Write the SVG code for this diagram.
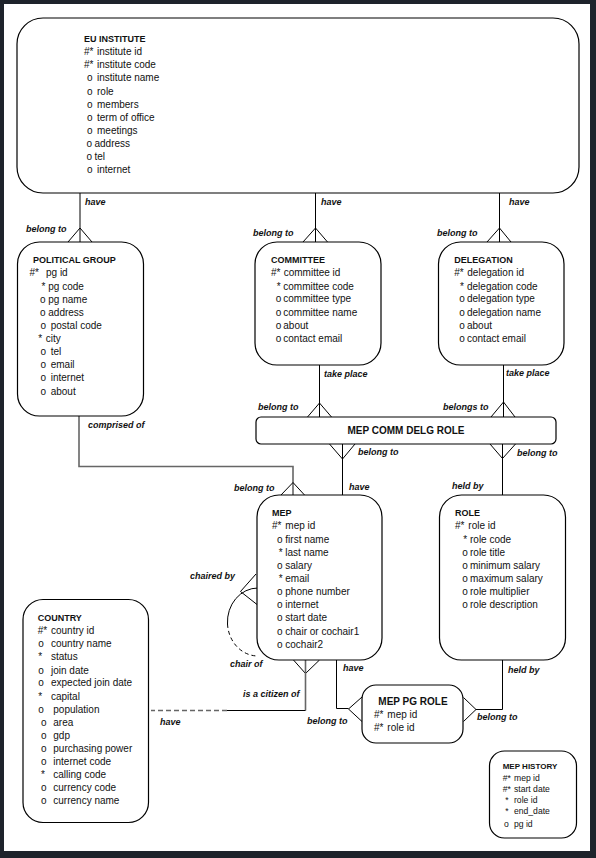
<svg xmlns="http://www.w3.org/2000/svg" width="596" height="858" viewBox="0 0 596 858">
<style>
.box{fill:#fff;stroke:#000;stroke-width:1.2}
text{font-family:"Liberation Sans",Arial,sans-serif;fill:#111}
.a{font-size:10px}
.h{font-size:9px;font-weight:bold}
.h10{font-size:10px;font-weight:bold}
.s{font-size:8.6px}
.h8{font-size:8px;font-weight:bold}
.lbl{font-size:9px;font-weight:bold;font-style:italic}
.ln{stroke:#000;stroke-width:1;fill:none}
.gr{stroke:#666;stroke-width:1.6;fill:none}
.ds{stroke:#666;stroke-width:1.4;fill:none;stroke-dasharray:5 3}
.dk{stroke:#000;stroke-width:1;fill:none;stroke-dasharray:4 3}
</style>
<rect x="0" y="0" width="596" height="858" fill="#1e232b"/>
<rect x="4" y="4" width="586" height="847" fill="#fff"/>

<g id="connectors">
  <!-- EU INSTITUTE to POLITICAL GROUP -->
  <line class="ln" x1="80" y1="193" x2="80" y2="242"/>
  <polyline class="ln" points="68,242 80,228 92,242"/>
  <!-- EU INSTITUTE to COMMITTEE -->
  <line class="ln" x1="315.5" y1="193" x2="315.5" y2="242"/>
  <polyline class="ln" points="303,242 315.5,228 327.5,242"/>
  <!-- EU INSTITUTE to DELEGATION -->
  <line class="ln" x1="499.5" y1="193" x2="499.5" y2="242"/>
  <polyline class="ln" points="487,242 499.5,228 511,242"/>
  <!-- COMMITTEE to MEP COMM DELG ROLE -->
  <line class="ln" x1="319.5" y1="365" x2="319.5" y2="417"/>
  <polyline class="ln" points="307.5,417 319.5,403 331.5,417"/>
  <!-- DELEGATION to MEP COMM DELG ROLE -->
  <line class="ln" x1="503.5" y1="365" x2="503.5" y2="417"/>
  <polyline class="ln" points="491,417 503.5,402 515,417"/>
  <!-- MEP COMM DELG ROLE to MEP -->
  <line class="ln" x1="342.5" y1="444" x2="342.5" y2="495"/>
  <polyline class="ln" points="329.5,444 342.5,459 355,444"/>
  <!-- MEP COMM DELG ROLE to ROLE -->
  <line class="ln" x1="502.5" y1="444" x2="502.5" y2="495"/>
  <polyline class="ln" points="490,444 502.5,458.5 515.5,444"/>
  <!-- POLITICAL GROUP to MEP -->
  <polyline class="gr" points="79,416 79,466.5 293,466.5 293,495"/>
  <polyline class="ln" points="281,495 293,482.5 304.5,495"/>
  <!-- MEP self relationship -->
  <polyline class="ln" points="256,574 240.5,591.5 257,604.5"/>
  <path class="ln" d="M258,588 A30.5,34 0 0 0 227.5,624"/>
  <path class="dk" d="M227.5,624 A30.5,34 0 0 0 258,656"/>
  <!-- MEP to COUNTRY -->
  <polyline class="ln" points="293.5,660 305.5,673.5 319.5,660"/>
  <line class="gr" x1="305.5" y1="660" x2="305.5" y2="710.5"/>
  <line class="ln" x1="305.5" y1="710.5" x2="227" y2="710.5"/>
  <line class="ds" x1="227" y1="710.5" x2="151" y2="710.5"/>
  <!-- MEP to MEP PG ROLE -->
  <polyline class="ln" points="336.5,660 336.5,708.5 348.5,708.5"/>
  <polyline class="ln" points="362,697 348.5,709 362,721.5"/>
  <!-- ROLE to MEP PG ROLE -->
  <polyline class="ln" points="502.5,660 502.5,709.5 476,709.5"/>
  <polyline class="ln" points="463.5,697.5 476,709.5 463.5,721.5"/>

  <g id="labels">
    <text class="lbl" x="85" y="205">have</text>
    <text class="lbl" x="26" y="232">belong to</text>
    <text class="lbl" x="321" y="205">have</text>
    <text class="lbl" x="253" y="235.5">belong to</text>
    <text class="lbl" x="509" y="205">have</text>
    <text class="lbl" x="437" y="235.5">belong to</text>
    <text class="lbl" x="324" y="377">take place</text>
    <text class="lbl" x="258" y="410">belong to</text>
    <text class="lbl" x="506" y="376">take place</text>
    <text class="lbl" x="443" y="410">belongs to</text>
    <text class="lbl" x="358" y="455">belong to</text>
    <text class="lbl" x="349" y="490">have</text>
    <text class="lbl" x="517" y="456">belong to</text>
    <text class="lbl" x="452" y="489">held by</text>
    <text class="lbl" x="88" y="428">comprised of</text>
    <text class="lbl" x="234" y="491">belong to</text>
    <text class="lbl" x="190" y="579">chaired by</text>
    <text class="lbl" x="230" y="666.5">chair of</text>
    <text class="lbl" x="343" y="671">have</text>
    <text class="lbl" x="243" y="696.5">is a citizen of</text>
    <text class="lbl" x="160" y="725">have</text>
    <text class="lbl" x="307" y="724">belong to</text>
    <text class="lbl" x="477" y="720">belong to</text>
    <text class="lbl" x="508" y="672.5">held by</text>
  </g>
</g>

<g id="eu-institute">
  <rect class="box" x="17" y="18" width="562" height="175" rx="26"/>
  <text class="h" x="84" y="42">EU INSTITUTE</text>
  <text class="a" x="84" y="55">#*<tspan x="97">institute id</tspan></text>
  <text class="a" x="84" y="68">#*<tspan x="97">institute code</tspan></text>
  <text class="a" x="87" y="81">o<tspan x="97">institute name</tspan></text>
  <text class="a" x="87" y="94.5">o<tspan x="97">role</tspan></text>
  <text class="a" x="87" y="108">o<tspan x="97">members</tspan></text>
  <text class="a" x="87" y="121">o<tspan x="97">term of office</tspan></text>
  <text class="a" x="87" y="134">o<tspan x="97">meetings</tspan></text>
  <text class="a" x="86.5" y="147">o<tspan x="94.5">address</tspan></text>
  <text class="a" x="86.5" y="160">o<tspan x="94.5">tel</tspan></text>
  <text class="a" x="87" y="173">o<tspan x="97">internet</tspan></text>
</g>

<g id="political-group">
  <rect class="box" x="17.5" y="242" width="126" height="174" rx="22"/>
  <text class="h" x="33" y="263">POLITICAL GROUP</text>
  <text class="a" x="29.5" y="276">#*<tspan x="46">pg id</tspan></text>
  <text class="a" x="41.5" y="289.5">*<tspan x="48.3">pg code</tspan></text>
  <text class="a" x="40" y="302.5">o<tspan x="48.3">pg name</tspan></text>
  <text class="a" x="40" y="316">o<tspan x="48.3">address</tspan></text>
  <text class="a" x="40.5" y="329">o<tspan x="50.7">postal code</tspan></text>
  <text class="a" x="38.3" y="342">*<tspan x="45.7">city</tspan></text>
  <text class="a" x="40.5" y="355">o<tspan x="50.7">tel</tspan></text>
  <text class="a" x="40.5" y="368">o<tspan x="50.7">email</tspan></text>
  <text class="a" x="40.5" y="381">o<tspan x="50.7">internet</tspan></text>
  <text class="a" x="40.5" y="395">o<tspan x="50.7">about</tspan></text>
</g>

<g id="committee">
  <rect class="box" x="255" y="242" width="126" height="123" rx="22"/>
  <text class="h" x="271" y="263">COMMITTEE</text>
  <text class="a" x="271" y="276">#*<tspan x="283.7">committee id</tspan></text>
  <text class="a" x="276.7" y="289.5">*<tspan x="283.3">committee code</tspan></text>
  <text class="a" x="275.7" y="302">o<tspan x="283.3">committee type</tspan></text>
  <text class="a" x="275.7" y="316">o<tspan x="283.3">committee name</tspan></text>
  <text class="a" x="275.7" y="329">o<tspan x="283.3">about</tspan></text>
  <text class="a" x="275.7" y="342">o<tspan x="283.3">contact email</tspan></text>
</g>

<g id="delegation">
  <rect class="box" x="438.5" y="242" width="125.5" height="123" rx="22"/>
  <text class="h" x="454.3" y="263">DELEGATION</text>
  <text class="a" x="454.3" y="276">#*<tspan x="467.3">delegation id</tspan></text>
  <text class="a" x="460" y="289.5">*<tspan x="467">delegation code</tspan></text>
  <text class="a" x="459.3" y="302">o<tspan x="467">delegation type</tspan></text>
  <text class="a" x="459.3" y="316">o<tspan x="467">delegation name</tspan></text>
  <text class="a" x="459.3" y="329">o<tspan x="467">about</tspan></text>
  <text class="a" x="459.3" y="342">o<tspan x="467">contact email</tspan></text>
</g>

<g id="mep-comm-delg-role">
  <rect class="box" x="256" y="417" width="300" height="27" rx="5"/>
  <text class="h10" x="406" y="433.5" text-anchor="middle">MEP COMM DELG ROLE</text>
</g>

<g id="mep">
  <rect class="box" x="257" y="495" width="125" height="165" rx="22"/>
  <text class="h" x="272" y="516">MEP</text>
  <text class="a" x="272" y="529">#*<tspan x="285.3">mep id</tspan></text>
  <text class="a" x="277" y="543">o<tspan x="285.3">first name</tspan></text>
  <text class="a" x="278.7" y="556">*<tspan x="285.3">last name</tspan></text>
  <text class="a" x="277" y="569">o<tspan x="285.3">salary</tspan></text>
  <text class="a" x="278.7" y="582">*<tspan x="285.3">email</tspan></text>
  <text class="a" x="277" y="595">o<tspan x="285.3">phone number</tspan></text>
  <text class="a" x="277" y="608">o<tspan x="285.3">internet</tspan></text>
  <text class="a" x="277" y="621">o<tspan x="285.3">start date</tspan></text>
  <text class="a" x="277" y="635">o<tspan x="285.3">chair or cochair1</tspan></text>
  <text class="a" x="277" y="648">o<tspan x="285.3">cochair2</tspan></text>
</g>

<g id="role">
  <rect class="box" x="439.5" y="495" width="126" height="165" rx="22"/>
  <text class="h" x="455" y="516">ROLE</text>
  <text class="a" x="455" y="529">#*<tspan x="468.3">role id</tspan></text>
  <text class="a" x="463.3" y="543">*<tspan x="470">role code</tspan></text>
  <text class="a" x="462.3" y="556">o<tspan x="470">role title</tspan></text>
  <text class="a" x="462.3" y="569">o<tspan x="470">minimum salary</tspan></text>
  <text class="a" x="462.3" y="582">o<tspan x="470">maximum salary</tspan></text>
  <text class="a" x="462.3" y="595">o<tspan x="470">role multiplier</tspan></text>
  <text class="a" x="462.3" y="608">o<tspan x="470">role description</tspan></text>
</g>

<g id="country">
  <rect class="box" x="23" y="599.5" width="125.5" height="223" rx="20"/>
  <text class="h" x="37.7" y="621">COUNTRY</text>
  <text class="a" x="37.7" y="634">#*<tspan x="51">country id</tspan></text>
  <text class="a" x="38.3" y="647">o<tspan x="51">country name</tspan></text>
  <text class="a" x="38.3" y="660">*<tspan x="51">status</tspan></text>
  <text class="a" x="38.3" y="673.5">o<tspan x="51">join date</tspan></text>
  <text class="a" x="38.3" y="686">o<tspan x="51">expected join date</tspan></text>
  <text class="a" x="38.3" y="699.5">*<tspan x="51">capital</tspan></text>
  <text class="a" x="38.3" y="713">o<tspan x="53.3">population</tspan></text>
  <text class="a" x="41" y="726">o<tspan x="53.3">area</tspan></text>
  <text class="a" x="41" y="739">o<tspan x="53.3">gdp</tspan></text>
  <text class="a" x="41" y="752">o<tspan x="53.3">purchasing power</tspan></text>
  <text class="a" x="41" y="765">o<tspan x="53.3">internet code</tspan></text>
  <text class="a" x="41" y="778">*<tspan x="53.3">calling code</tspan></text>
  <text class="a" x="41" y="791">o<tspan x="53.3">currency code</tspan></text>
  <text class="a" x="41" y="804">o<tspan x="53.3">currency name</tspan></text>
</g>

<g id="mep-pg-role">
  <rect class="box" x="362" y="685" width="101" height="58" rx="14"/>
  <text class="h10" x="378.3" y="705">MEP PG ROLE</text>
  <text class="a" x="374" y="718">#*<tspan x="387.3">mep id</tspan></text>
  <text class="a" x="374" y="731">#*<tspan x="387.3">role id</tspan></text>
</g>

<g id="mep-history">
  <rect class="box" x="489.5" y="751" width="87" height="87" rx="15"/>
  <text class="h8" x="502.7" y="769">MEP HISTORY</text>
  <text class="s" x="502.7" y="780.5">#*<tspan x="514">mep id</tspan></text>
  <text class="s" x="502.7" y="792">#*<tspan x="514">start date</tspan></text>
  <text class="s" x="505.3" y="803">*<tspan x="514">role id</tspan></text>
  <text class="s" x="505.3" y="814">*<tspan x="514">end_date</tspan></text>
  <text class="s" x="504" y="826.5">o<tspan x="514">pg id</tspan></text>
</g>
</svg>
